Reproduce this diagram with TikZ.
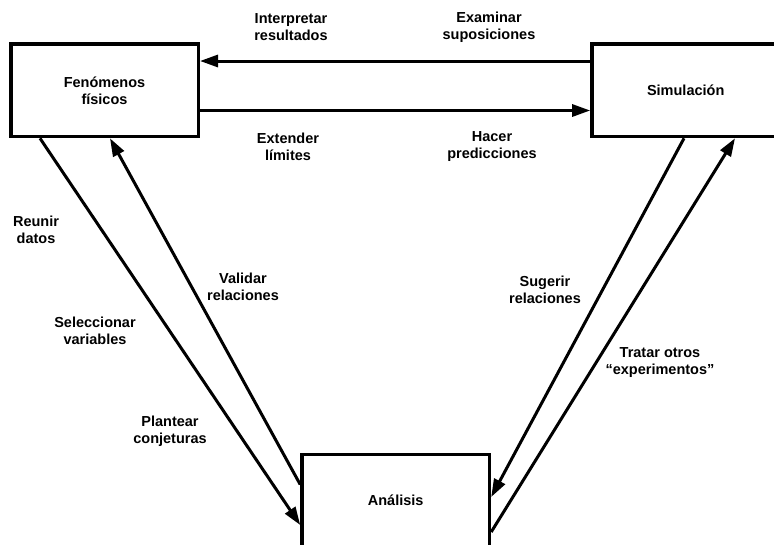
\documentclass[tikz,border=0pt]{standalone}
\usepackage{fontspec}
\setmainfont{Liberation Sans}
\usetikzlibrary{arrows.meta}
\begin{document}
\begin{tikzpicture}[x=1pt,y=-1pt,
  box/.style={draw,line width=3.5pt,minimum width=187.5pt,minimum height=92.5pt,
    inner sep=0pt,align=center,font=\fontsize{14.5}{17}\selectfont\bfseries},
  lbl/.style={align=center,inner sep=0pt,font=\fontsize{14.5}{17}\selectfont\bfseries},
  flow/.style={line width=3pt,-{Triangle[length=18pt,width=12pt]}}]
  \useasboundingbox (0,0) rectangle (774,544);
  \clip (0,0) rectangle (774,544);
  \fill[white] (0,0) rectangle (774,544);

  % the three stages
  \node[box] (fen) at (104.5,90.3) {Fenómenos\\físicos};
  \node[box] (sim) at (685.7,90.3) {Simulación};
  \node[box] (ana) at (395.7,500.5) {Análisis};

  % connectors between the stages
  \draw[flow] ([yshift=29.3pt]sim.west) -- ([yshift=29.3pt]fen.east);
  \draw[flow] ([yshift=-20.2pt]fen.east) -- ([yshift=-20.2pt]sim.west);
  \draw[flow] ([xshift=31pt]fen.south west) -- ([yshift=-24.5pt]ana.west);
  \draw[flow] ([yshift=16pt]ana.west) -- ([xshift=5.5pt]fen.south);
  \draw[flow] ([xshift=-1.7pt]sim.south) -- ([yshift=3.5pt]ana.east);
  \draw[flow] ([yshift=-31.5pt]ana.east) -- ([xshift=49.3pt]sim.south);

  % connector labels
  \node[lbl] (interp) at (291,27) {Interpretar\\resultados};
  \node[lbl] (exam) at (489,27) {Examinar\\suposiciones};
  \node[lbl] (ext) at (288,147) {Extender\\límites};
  \node[lbl] (pred) at (492,147) {Hacer\\predicciones};
  \node[lbl] (reun) at (36,230) {Reunir\\datos};
  \node[lbl] (valid) at (243,287) {Validar\\relaciones};
  \node[lbl] (selec) at (95,331) {Seleccionar\\variables};
  \node[lbl] (plant) at (170,431) {Plantear\\conjeturas};
  \node[lbl] (suger) at (545,290) {Sugerir\\relaciones};
  \node[lbl] (tratar) at (660,363) {Tratar otros\\“experimentos”};
\end{tikzpicture}
\end{document}
